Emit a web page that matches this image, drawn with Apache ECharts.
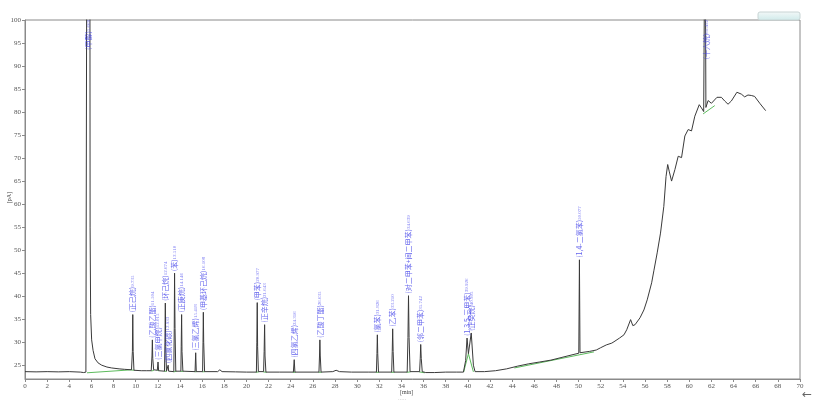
<!DOCTYPE html>
<html>
<head>
<meta charset="utf-8">
<script src="https://cdn.jsdelivr.net/npm/echarts@6/dist/echarts.min.js"></script>
<style>
html,body{margin:0;padding:0;background:#fff;}
#c{width:813px;height:407px;}
</style>
</head>
<body>
<div id="c"></div>
<script>
// ---- Data ----
// retention time [min]
var times = [
  0.0, 1.0, 2.0, 3.0, 4.0, 5.0, 5.3, 5.5, 5.57, 5.59, 5.86, 5.88, 5.93, 6.02, 6.15, 6.32, 6.6, 6.93, 7.4, 7.83, 8.5, 9.0,
  9.62, 9.70, 9.735, 9.77, 9.84, 10.5, 11.0,
  11.40, 11.47, 11.504, 11.54, 11.62, 11.95, 12.015, 12.07,
  12.60, 12.64, 12.674, 12.71, 12.78, 12.90, 12.933, 12.97,
  13.44, 13.48, 13.510, 13.55, 13.62,
  14.08, 14.11, 14.146, 14.18, 14.26,
  15.36, 15.418, 15.47,
  16.04, 16.08, 16.108, 16.14, 16.22,
  17.4, 17.6, 17.8, 19.0, 20.0,
  20.90, 20.94, 20.977, 21.01, 21.08,
  21.55, 21.60, 21.643, 21.68, 21.76, 23.0,
  24.24, 24.316, 24.38,
  26.55, 26.60, 26.635, 26.67, 26.74,
  27.8, 28.1, 28.4, 29.5, 31.0,
  31.74, 31.79, 31.826, 31.86, 31.93,
  33.12, 33.17, 33.210, 33.25, 33.32,
  34.52, 34.59, 34.639, 34.69, 34.78,
  35.64, 35.70, 35.742, 35.79, 35.88,
  36.2, 37.0, 38.0, 39.0, 39.6, 39.8, 39.926, 40.05, 40.305, 40.5, 40.65,
  41.5, 42.5, 43.5, 44.5, 45.5, 46.5, 47.5, 48.5, 49.5,
  50.02, 50.077, 50.13, 51.0, 51.6, 52.0, 52.5, 53.0, 53.2, 53.7, 54.1, 54.35, 54.7, 54.9, 55.1, 55.55, 55.9,
  56.2, 56.6, 56.8, 57.1, 57.4, 57.7, 57.9, 58.05, 58.2, 58.4, 58.7, 59.0, 59.3, 59.6, 59.9, 60.2, 60.5, 60.9,
  61.1, 61.3, 61.40, 61.43, 61.47, 61.5, 61.7, 62.0, 62.5, 62.9, 63.2, 63.5, 63.8, 64.3, 64.7, 65.0, 65.3, 65.6,
  65.9, 66.4, 66.9
];
// FID signal [pA]
var signal = [
  23.6, 23.55, 23.6, 23.55, 23.6, 23.5, 23.4, 23.5, 23.5, 130, 130, 55, 36, 30.5, 28.2, 26.4, 25.5, 25.0, 24.6, 24.4, 24.2, 24.1,
  24.0, 28, 36.0, 28, 23.9, 23.8, 23.8,
  23.8, 27, 30.5, 26.5, 24.0, 23.9, 25.7, 23.8,
  23.7, 30, 38.5, 29, 23.7, 23.7, 25.0, 23.7,
  23.6, 33, 45.0, 33, 23.7,
  23.7, 29, 36.0, 28, 23.7,
  23.6, 27.7, 23.6,
  23.6, 30, 36.5, 30, 23.6,
  23.6, 24.0, 23.6, 23.55, 23.5,
  23.5, 30, 38.6, 29, 23.6,
  23.6, 28, 33.8, 27, 23.5, 23.5,
  23.5, 26.2, 23.5,
  23.5, 27, 30.5, 27, 23.5,
  23.6, 23.9, 23.6, 23.5, 23.5,
  23.5, 27.5, 31.6, 27.5, 23.5,
  23.5, 28, 32.9, 28, 23.5,
  23.5, 31, 40.1, 31, 23.6,
  23.6, 26.5, 29.5, 26.5, 23.6,
  23.4, 23.4, 23.5, 23.5, 23.5, 26, 30.9, 27.5, 32.0, 25, 23.6,
  23.6, 23.8, 24.2, 24.8, 25.3, 25.7, 26.1, 26.7, 27.3,
  27.6, 47.9, 27.7, 28.0, 28.3, 28.8, 29.4, 29.8, 30.1, 30.9, 31.6, 32.7, 34.9, 33.6, 33.8, 35.3, 37.0,
  39.2, 42.9, 45.5, 49.4, 53.7, 59.5, 66.0, 68.6, 67.0, 65.0, 67.5, 70.4, 70.1, 74.8, 76.2, 75.9, 79.1, 81.6,
  80.9, 80.1, 80.5, 130, 130, 81.0, 82.5, 81.9, 83.2, 83.2, 82.4, 81.7, 82.4, 84.3, 83.9, 83.3, 83.7, 83.6,
  83.4, 81.8, 80.3
];
// integration baselines (null = gap)
var baseT = [5.6, 9.65, null, 9.62, 9.86, null, 11.40, 11.64, null, 11.95, 12.09, null, 12.58, 12.80, null, 13.42, 13.66, null,
  14.06, 14.30, null, 15.34, 15.50, null, 16.02, 16.26, null, 20.86, 21.12, null, 21.52, 21.80, null, 24.20, 24.42, null,
  26.52, 26.78, null, 31.70, 31.97, null, 33.08, 33.36, null, 34.48, 34.82, null, 35.60, 36.10, null,
  39.62, 40.05, 40.50, null, 44.2, 51.4, null, 61.25, 62.3];
var baseV = [23.35, 24.0, null, 23.95, 23.9, null, 23.75, 23.85, null, 23.85, 23.8, null, 23.65, 23.7, null, 23.55, 23.65, null,
  23.65, 23.65, null, 23.55, 23.6, null, 23.55, 23.6, null, 23.45, 23.55, null, 23.55, 23.45, null, 23.45, 23.45, null,
  23.45, 23.45, null, 23.45, 23.45, null, 23.45, 23.45, null, 23.45, 23.55, null, 23.55, 23.35, null,
  23.5, 27.5, 23.55, null, 24.4, 27.9, null, 79.6, 81.4];
// labelled peaks
var peakNames = ['(甲醇)', '(正己烷)', '(乙酸乙酯)', '(三氯甲烷)', '(环己烷)', '(四氯化碳)', '(苯)', '(正庚烷)', '(三氯乙烯)',
  '(甲基环己烷)', '(甲苯)', '(正辛烷)', '(四氯乙烯)', '(乙酸丁酯)', '(氯苯)', '(乙苯)', '(对二甲苯+间二甲苯)', '(邻二甲苯)',
  '(1,3,5-三甲苯)', '(正癸烷)', '(1,4-二氯苯)', '(十六烷)'];
var peakTimes = [5.668, 9.735, 11.504, 12.015, 12.674, 12.933, 13.510, 14.146, 15.418, 16.108, 20.977, 21.643, 24.316, 26.635,
  31.826, 33.210, 34.639, 35.742, 39.926, 40.305, 50.077, 61.452];
var peakHeights = [130, 36.0, 30.5, 25.7, 38.5, 25.0, 45.0, 36.0, 27.7, 36.5, 38.6, 33.8, 26.2, 30.5, 31.6, 32.9, 40.1, 29.5,
  30.9, 32.0, 47.9, 130];
// axis ticks
var xTicks = [0,2,4,6,8,10,12,14,16,18,20,22,24,26,28,30,32,34,36,38,40,42,44,46,48,50,52,54,56,58,60,62,64,66,68,70];
var yTicks = [25,30,35,40,45,50,55,60,65,70,75,80,85,90,95,100];

var X_MIN = 0, X_MAX = 70, Y_MIN = 22, Y_MAX = 100;

var traceData = times.map(function (t, i) { return [t, signal[i]]; });
var baseData = baseT.map(function (t, i) { return t === null ? [null, null] : [t, baseV[i]]; });
var labelData = peakTimes.map(function (t, i) {
  var clipped = peakHeights[i] > Y_MAX;
  return {
    value: [t, clipped ? Y_MAX : peakHeights[i]],
    name: peakNames[i],
    label: clipped ? { position: 'insideBottom', align: 'right', distance: 0, offset: [0, 1] } : {}
  };
});

var chart = echarts.init(document.getElementById('c'), null, { renderer: 'canvas' });
var serif = 'Liberation Serif';
chart.setOption({
  animation: false,
  grid: { left: 25, right: 13, top: 20, bottom: 28, show: true, borderColor: '#8a8a8a', borderWidth: 1, backgroundColor: 'transparent' },
  xAxis: {
    type: 'value', min: X_MIN, max: X_MAX, interval: 2,
    axisLine: { show: true, lineStyle: { color: '#8a8a8a', width: 1 } },
    axisTick: { show: true, length: 3, lineStyle: { color: '#8a8a8a' }, customValues: xTicks },
    axisLabel: { fontSize: 7, fontFamily: serif, color: '#555', margin: 4, customValues: xTicks },
    splitLine: { show: false }
  },
  yAxis: {
    type: 'value', min: Y_MIN, max: Y_MAX,
    axisLine: { show: true, lineStyle: { color: '#8a8a8a', width: 1 } },
    axisTick: { show: true, length: 3, lineStyle: { color: '#8a8a8a' }, customValues: yTicks },
    axisLabel: { fontSize: 7, fontFamily: serif, color: '#555', margin: 4, customValues: yTicks },
    splitLine: { show: false }
  },
  series: [
    {
      type: 'line', data: baseData, symbol: 'none', connectNulls: false, z: 2,
      lineStyle: { color: '#5dbb5d', width: 1 }, silent: true
    },
    {
      type: 'line', data: traceData, symbol: 'none', z: 3, clip: true,
      lineStyle: { color: '#3a3a3a', width: 1 }, silent: true
    },
    {
      type: 'scatter', data: labelData, symbolSize: 0, z: 4, clip: false, silent: true,
      label: {
        show: true, position: 'top', distance: 2, rotate: 90, align: 'left', verticalAlign: 'middle',
        formatter: function (p) { return '{n|' + p.name + '}{v|' + p.value[0].toFixed(3) + '}'; },
        rich: {
          n: { fontSize: 7, color: '#3b3be8', fontFamily: 'Noto Sans CJK SC' },
          v: { fontSize: 5, color: '#5a5af0', fontFamily: serif }
        }
      }
    }
  ],
  graphic: [
    { type: 'text', left: 6, top: 192, rotation: Math.PI / 2, style: { text: '[pA]', fontSize: 6, fontFamily: serif, fill: '#444' } },
    { type: 'text', left: 400, top: 389, style: { text: '[min]', fontSize: 6, fontFamily: serif, fill: '#444' } },
    { type: 'text', left: 398, top: 397, style: { text: '·····', fontSize: 5, fontFamily: serif, fill: '#999' } },
    { type: 'text', left: 802, top: 389, style: { text: '←', fontSize: 12, fontFamily: 'DejaVu Sans', fill: '#666' } },
    { type: 'rect', shape: { x: 758, y: 12, width: 42, height: 8, r: 2 },
      style: { fill: new echarts.graphic.LinearGradient(0, 0, 0, 1, [{ offset: 0, color: '#f4f8f8' }, { offset: 1, color: '#cfeaea' }]), stroke: '#c8d4d4', lineWidth: 1 } }
  ]
});
</script>
</body>
</html>
